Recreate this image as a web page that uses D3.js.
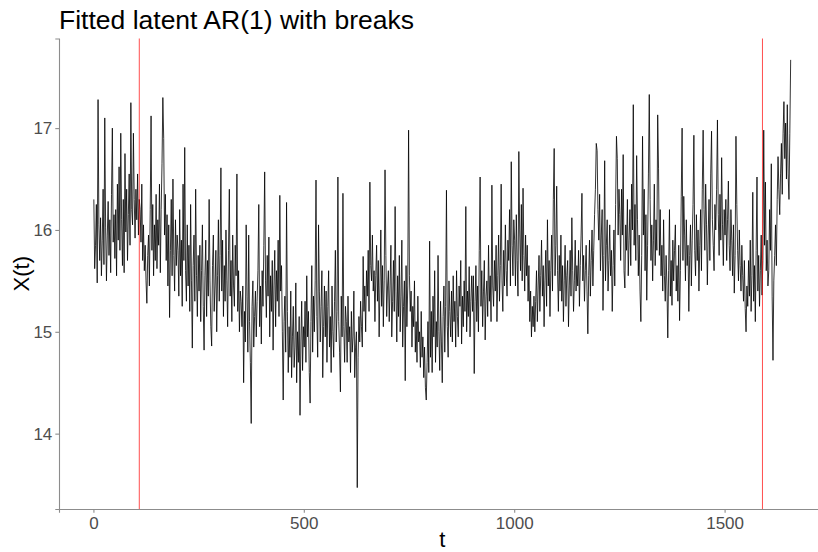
<!DOCTYPE html>
<html>
<head>
<meta charset="utf-8">
<script src="https://cdn.jsdelivr.net/npm/d3@7"></script>
<style>
  html, body { margin: 0; padding: 0; background: #fff; }
  svg { display: block; font-family: "Liberation Sans", Arial, sans-serif; }
</style>
</head>
<body>
<svg id="chart" width="818" height="552"></svg>
<script>
// Latent state X(t), sampled every second step: t = 1, 3, 5, ..., 1657
const tStart = 1;
const tStep = 2;
const latentX = [
  16.30, 15.62, 15.85, 16.25, 15.48, 17.28, 16.05, 15.70, 16.12, 15.55, 15.90, 16.40, 15.66, 17.10, 16.02, 15.50, 15.95, 16.28, 15.75, 16.10, 15.58, 16.35, 17.00, 15.88, 16.15,
  15.72, 16.20, 15.55, 16.45, 15.90, 16.62, 15.80, 16.95, 16.10, 15.65, 16.30, 15.58, 16.75, 15.98, 16.40, 15.70, 16.15, 16.55, 15.85, 17.25, 16.20, 16.05, 16.95, 16.30, 15.92,
  16.40, 16.10, 16.55, 15.95, 16.30, 16.20, 15.88, 16.45, 15.70, 16.05, 15.60, 15.85, 15.50, 15.28, 15.75, 15.95, 15.45, 16.20, 17.12, 15.80, 16.25, 15.55, 16.05, 15.70, 16.35,
  15.62, 16.10, 15.85, 16.45, 15.58, 16.20, 16.65, 17.30, 16.90, 15.95, 16.35, 15.70, 16.15, 15.45, 16.05, 15.14, 15.80, 16.30, 15.55, 16.50, 15.75, 15.40, 16.10, 15.65, 15.95,
  15.80, 15.35, 16.20, 15.55, 15.90, 15.25, 16.45, 15.70, 16.81, 15.60, 15.30, 16.05, 15.45, 15.85, 15.20, 16.25, 15.50, 14.84, 15.65, 15.95, 15.30, 16.40, 15.55, 15.15, 15.75,
  15.40, 15.85, 15.10, 15.60, 16.05, 15.25, 14.82, 15.55, 15.90, 15.15, 15.70, 15.35, 16.30, 15.50, 15.05, 14.86, 15.65, 15.95, 15.20, 15.45, 15.80, 15.00, 15.55, 16.10, 15.30,
  15.75, 16.61, 15.40, 15.90, 15.15, 15.65, 15.30, 16.00, 15.50, 15.05, 15.80, 16.40, 15.35, 15.70, 15.10, 15.95, 15.45, 15.25, 15.85, 15.55, 16.55, 15.20, 15.60, 15.00, 15.40,
  15.30, 15.05, 15.45, 14.50, 15.20, 14.90, 16.05, 15.35, 14.80, 15.95, 15.10, 14.70, 14.10, 15.25, 15.50, 14.85, 15.15, 15.40, 14.95, 15.30, 15.60, 16.25, 15.05, 15.45, 14.88,
  15.60, 15.25, 15.85, 16.57, 15.50, 15.14, 15.75, 15.35, 15.93, 14.95, 15.55, 15.20, 15.70, 14.82, 15.45, 15.80, 15.05, 15.60, 15.30, 15.90, 15.15, 16.34, 15.40, 15.65, 15.00,
  14.33, 15.10, 15.35, 14.80, 16.27, 15.20, 14.60, 15.05, 14.75, 15.40, 14.55, 14.95, 15.25, 14.65, 14.85, 15.48, 14.50, 15.00, 14.70, 15.15, 14.18, 14.90, 15.30, 14.62, 15.05,
  14.85, 15.30, 14.70, 15.55, 14.95, 15.20, 14.60, 14.30, 15.10, 15.65, 14.80, 15.35, 15.00, 15.50, 16.49, 15.15, 14.75, 16.05, 15.40, 14.90, 15.25, 15.60, 14.55, 15.05, 15.45,
  14.95, 15.40, 14.70, 15.25, 15.60, 14.85, 15.15, 14.60, 15.45, 15.00, 14.75, 15.30, 15.80, 14.90, 15.20, 16.52, 15.10, 14.80, 14.41, 15.35, 14.95, 16.36, 15.05, 14.70, 15.25,
  15.10, 14.70, 15.35, 14.90, 15.05, 14.60, 15.20, 14.80, 14.95, 15.40, 14.55, 14.85, 15.00, 13.47, 14.75, 15.15, 14.90, 15.30, 15.05, 14.85, 15.74, 15.20, 15.45, 15.00, 15.60,
  15.35, 15.80, 15.20, 16.47, 15.65, 15.50, 15.95, 15.40, 15.60, 15.10, 15.55, 15.85, 15.30, 15.70, 14.95, 15.45, 16.00, 15.25, 15.65, 15.05, 15.50, 16.59, 15.75, 15.15, 15.45,
  15.60, 15.10, 15.45, 15.85, 14.95, 15.30, 15.70, 15.20, 16.23, 15.40, 14.90, 15.55, 15.15, 15.75, 15.00, 15.35, 15.90, 14.85, 15.25, 15.50, 14.52, 15.65, 15.05, 15.45, 16.98,
  15.55, 15.20, 15.40, 14.85, 15.25, 15.05, 15.50, 14.80, 15.10, 14.70, 15.35, 14.90, 15.00, 14.65, 15.20, 14.75, 14.95, 14.55, 14.85, 14.45, 14.33, 14.70, 15.10, 14.60, 15.89,
  14.75, 15.20, 14.60, 15.35, 14.95, 15.60, 14.70, 15.10, 14.85, 15.75, 15.00, 14.62, 15.30, 14.90, 14.50, 15.15, 15.45, 14.80, 15.25, 16.39, 15.05, 14.75, 15.50, 15.20, 14.95,
  15.40, 14.90, 15.55, 15.10, 15.30, 14.85, 15.60, 15.15, 14.95, 15.45, 15.25, 15.70, 14.88, 15.35, 15.05, 15.50, 15.20, 16.23, 15.00, 15.40, 15.15, 15.64, 14.95, 15.30, 15.55,
  15.20, 15.55, 14.59, 15.30, 15.65, 15.10, 15.45, 15.00, 15.80, 16.52, 15.25, 15.60, 15.05, 15.40, 15.70, 14.92, 15.35, 15.50, 15.15, 15.85, 15.30, 15.55, 15.10, 16.44, 15.45,
  15.25, 15.70, 15.40, 15.85, 15.10, 15.55, 15.95, 15.30, 15.65, 16.45, 15.50, 15.20, 15.80, 15.45, 16.05, 15.60, 15.35, 15.90, 15.70, 16.20, 15.45, 16.67, 15.85, 15.55, 16.10,
  15.90, 15.45, 16.15, 15.70, 15.35, 16.77, 16.00, 15.60, 16.25, 15.50, 16.41, 15.75, 15.40, 15.95, 15.55, 15.85, 15.30, 15.65, 15.10, 15.40, 14.95, 15.25, 15.05, 15.35, 15.00,
  15.30, 15.60, 15.10, 15.45, 15.75, 15.20, 15.55, 15.90, 15.35, 15.65, 15.05, 15.50, 15.80, 15.25, 16.10, 15.45, 15.70, 15.15, 15.60, 15.95, 15.40, 16.30, 16.80, 15.55, 15.85,
  16.43, 15.60, 15.20, 15.75, 15.40, 15.95, 15.30, 15.65, 15.10, 15.50, 15.85, 15.25, 15.55, 15.70, 15.05, 15.45, 15.80, 15.35, 16.12, 15.60, 15.20, 15.50, 15.90, 15.40, 15.65,
  15.45, 15.80, 15.25, 15.65, 15.95, 16.36, 15.50, 15.75, 15.30, 15.60, 15.85, 15.40, 14.98, 15.55, 15.90, 15.35, 15.70, 16.00, 15.45, 15.80, 16.15, 16.40, 16.85, 16.78, 16.20,
  15.90, 16.35, 15.60, 15.95, 16.20, 15.21, 15.75, 16.68, 15.50, 15.85, 16.10, 15.40, 15.70, 16.05, 15.55, 15.80, 15.20, 15.65, 16.00, 15.45, 16.25, 16.92, 16.70, 15.95, 16.40,
  16.15, 15.70, 16.40, 15.95, 16.74, 15.60, 15.43, 16.05, 15.80, 16.30, 15.55, 15.90, 16.20, 15.65, 16.45, 16.00, 17.23, 15.85, 16.25, 15.70, 16.73, 16.10, 15.55, 15.95, 15.40,
  15.10, 15.75, 16.92, 15.95, 16.40, 15.60, 16.15, 15.31, 15.85, 16.55, 17.33, 16.30, 15.70, 16.05, 15.50, 15.90, 16.45, 15.65, 16.10, 15.80, 17.13, 16.60, 15.75, 16.20, 15.55,
  15.85, 15.40, 16.10, 15.55, 15.30, 15.75, 15.45, 14.94, 15.60, 16.20, 15.35, 15.70, 15.26, 15.90, 15.50, 15.80, 16.05, 15.40, 15.65, 15.30, 15.85, 15.11, 15.60, 16.33, 17.00,
  15.70, 16.33, 15.95, 15.50, 16.10, 15.65, 15.85, 15.20, 15.75, 16.05, 15.45, 15.90, 16.25, 16.93, 15.80, 15.55, 16.15, 15.70, 16.00, 15.40, 15.85, 16.20, 15.60, 16.40, 16.98,
  16.20, 15.80, 16.45, 16.05, 15.46, 15.95, 16.30, 15.70, 16.55, 16.97, 16.10, 15.85, 15.60, 16.25, 16.00, 16.40, 17.08, 16.15, 15.75, 16.35, 15.90, 16.71, 16.05, 15.65, 16.20,
  15.95, 16.30, 15.70, 16.10, 16.48, 15.85, 15.60, 16.20, 15.90, 15.55, 16.05, 15.38, 15.75, 16.92, 16.25, 15.80, 15.50, 16.00, 15.65, 15.40, 15.85, 15.55, 15.30, 15.70, 15.23,
  15.00, 15.45, 15.25, 15.70, 15.35, 15.90, 15.20, 15.55, 16.37, 15.30, 15.65, 15.10, 15.80, 16.52, 15.40, 15.75, 15.25, 15.60, 15.95, 15.36, 15.70, 16.98, 15.85, 16.47, 15.60,
  15.90, 15.45, 15.60, 16.20, 15.80, 16.65, 15.35, 14.72, 15.50, 15.75, 16.05, 15.65, 16.30, 16.72, 16.40, 16.15, 16.55, 16.85, 16.35, 16.95, 17.26, 16.70, 17.05, 16.50, 17.23,
  16.55, 16.30, 16.95, 17.67
];
// Estimated break points
const breakTimes = [109, 1590];
const xTicks = [0, 500, 1000, 1500];
const yTicks = [14, 15, 16, 17];
const titleText = "Fitted latent AR(1) with breaks";
const xTitle = "t";
const yTitle = "X(t)";

const series = latentX.map((v, i) => ({ t: tStart + i * tStep, x: v }));

const panel = { left: 59, right: 825.5, top: 38.5, bottom: 509 };

// ggplot-style 5% expansion of the data range
function expand(ext) {
  const pad = (ext[1] - ext[0]) * 0.05;
  return [ext[0] - pad, ext[1] + pad];
}

const xScale = d3.scaleLinear()
  .domain(expand(d3.extent(series, d => d.t)))
  .range([panel.left, panel.right]);
const yScale = d3.scaleLinear()
  .domain(expand(d3.extent(series, d => d.x)))
  .range([panel.bottom, panel.top]);

const svg = d3.select("#chart");
const axisColor = "#8c8c8c";
const labelColor = "#4d4d4d";

// series path
const line = d3.line().x(d => xScale(d.t)).y(d => yScale(d.x));
svg.append("path")
  .datum(series)
  .attr("d", line)
  .attr("fill", "none")
  .attr("stroke", "#000")
  .attr("stroke-width", 0.8)
  .attr("stroke-linejoin", "round");

// break markers
svg.append("g")
  .selectAll("line")
  .data(breakTimes)
  .join("line")
  .attr("x1", d => xScale(d))
  .attr("x2", d => xScale(d))
  .attr("y1", panel.top)
  .attr("y2", panel.bottom)
  .attr("stroke", "#ff0000")
  .attr("stroke-width", 0.7);

// axes
const xAxis = svg.append("g")
  .attr("transform", `translate(0,${panel.bottom})`)
  .call(d3.axisBottom(xScale).tickValues(xTicks).tickSize(3.7).tickPadding(4).tickFormat(d3.format("d")));
const yAxis = svg.append("g")
  .attr("transform", `translate(${panel.left},0)`)
  .call(d3.axisLeft(yScale).tickValues(yTicks).tickSize(3.7).tickPadding(3).tickFormat(d3.format("d")));

[xAxis, yAxis].forEach(g => {
  g.select(".domain").attr("stroke", axisColor).attr("stroke-width", 1.1);
  g.selectAll(".tick line").attr("stroke", axisColor).attr("stroke-width", 1.1);
  g.selectAll(".tick text")
    .attr("fill", labelColor)
    .style("font-size", "17px")
    .style("font-family", "'Liberation Sans', Arial, sans-serif");
});

// titles
svg.append("text")
  .attr("x", panel.left)
  .attr("y", 29)
  .attr("fill", "#000")
  .style("font-size", "26.5px")
  .text(titleText);

svg.append("text")
  .attr("x", (panel.left + panel.right) / 2)
  .attr("y", 547)
  .attr("text-anchor", "middle")
  .attr("fill", "#000")
  .style("font-size", "22px")
  .text(xTitle);

svg.append("text")
  .attr("transform", `translate(29,${(panel.top + panel.bottom) / 2}) rotate(-90)`)
  .attr("text-anchor", "middle")
  .attr("fill", "#000")
  .style("font-size", "22px")
  .text(yTitle);
</script>
</body>
</html>
